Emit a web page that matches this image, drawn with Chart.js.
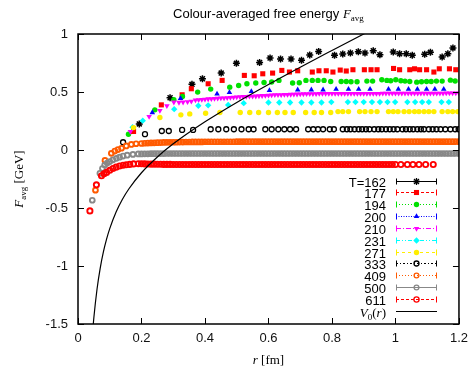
<!DOCTYPE html>
<html>
<head>
<meta charset="utf-8">
<title>Colour-averaged free energy</title>
<script src="https://cdn.jsdelivr.net/npm/chart.js@4.4.1/dist/chart.umd.min.js"></script>
<style>
  html, body { margin: 0; padding: 0; background: #fff; }
  #wrap { width: 475px; height: 367px; }
</style>
</head>
<body>
<div id="wrap"><canvas id="freeEnergyChart" width="475" height="367"></canvas></div>
<script>
// axis ticks
const xTicks = [0, 0.2, 0.4, 0.6, 0.8, 1, 1.2];
const yTicks = [-1.5, -1, -0.5, 0, 0.5, 1];

// T = 162 MeV
const r162 = [0.193, 0.29, 0.359, 0.392, 0.451, 0.499, 0.572, 0.605, 0.638, 0.671, 0.704, 0.730, 0.758,
  0.808, 0.834, 0.858, 0.883, 0.904, 0.93, 0.951, 0.993, 1.013, 1.034, 1.053, 1.092, 1.11, 1.147, 1.165, 1.181];
const v162 = [0.225, 0.45, 0.566, 0.614, 0.663, 0.747, 0.755, 0.793, 0.784, 0.784, 0.773, 0.819, 0.85,
  0.816, 0.827, 0.836, 0.848, 0.836, 0.856, 0.822, 0.845, 0.83, 0.83, 0.816, 0.825, 0.842, 0.802, 0.83, 0.88];

// T = 177
const r177 = [0.175, 0.2625, 0.328, 0.357, 0.41, 0.454, 0.524, 0.555, 0.582, 0.613, 0.642, 0.666, 0.692,
  0.738, 0.759, 0.782, 0.803, 0.826, 0.845, 0.866, 0.902, 0.923, 0.942, 0.994, 1.013, 1.045, 1.06, 1.076,
  1.098, 1.121, 1.138, 1.17, 1.19];
const v177 = [0.16, 0.389, 0.476, 0.528, 0.571, 0.6, 0.643, 0.64, 0.657, 0.663, 0.686, 0.672, 0.683,
  0.672, 0.683, 0.683, 0.672, 0.689, 0.681, 0.692, 0.692, 0.692, 0.692, 0.703, 0.692, 0.692, 0.7, 0.692,
  0.692, 0.672, 0.7, 0.7, 0.692];

// T = 194
const r194 = [0.159, 0.242, 0.302, 0.329, 0.377, 0.418, 0.478, 0.506, 0.532, 0.56, 0.586, 0.61, 0.633,
  0.676, 0.697, 0.718, 0.738, 0.756, 0.775, 0.796, 0.829, 0.845, 0.86, 0.879, 0.91, 0.928, 0.957, 0.973,
  0.985, 1.001, 1.017, 1.03, 1.045, 1.067, 1.082, 1.098, 1.1125, 1.129, 1.147, 1.173, 1.188];
const v194 = [0.136, 0.346, 0.433, 0.461, 0.499, 0.525, 0.542, 0.556, 0.571, 0.577, 0.582, 0.586, 0.6,
  0.577, 0.58, 0.6, 0.6, 0.6, 0.6, 0.591, 0.591, 0.591, 0.588, 0.588, 0.594, 0.594, 0.605, 0.6,
  0.597, 0.605, 0.597, 0.594, 0.591, 0.585, 0.588, 0.591, 0.591, 0.594, 0.594, 0.602, 0.595];

// T = 200
const r200 = [0.234, 0.323, 0.438, 0.477, 0.546, 0.603, 0.692, 0.735, 0.772, 0.813, 0.852, 0.884, 0.92,
  0.978, 1.009, 1.041, 1.069, 1.098, 1.124, 1.152];
const v200 = [0.323, 0.444, 0.484, 0.496, 0.505, 0.513, 0.519, 0.519, 0.519, 0.525, 0.525, 0.525, 0.525,
  0.525, 0.525, 0.525, 0.525, 0.525, 0.525, 0.525];

// fine r grid shared by the dense series
const rGrid = [
  0.20, 0.21, 0.22, 0.23, 0.24, 0.25, 0.26, 0.27, 0.28, 0.29,
  0.30, 0.31, 0.32, 0.33, 0.34, 0.35, 0.36, 0.37, 0.38, 0.39,
  0.40, 0.41, 0.42, 0.43, 0.44, 0.45, 0.46, 0.47, 0.48, 0.49,
  0.50, 0.51, 0.52, 0.53, 0.54, 0.55, 0.56, 0.57, 0.58, 0.59,
  0.60, 0.61, 0.62, 0.63, 0.64, 0.65, 0.66, 0.67, 0.68, 0.69,
  0.70, 0.71, 0.72, 0.73, 0.74, 0.75, 0.76, 0.77, 0.78, 0.79,
  0.80, 0.81, 0.82, 0.83, 0.84, 0.85, 0.86, 0.87, 0.88, 0.89,
  0.90, 0.91, 0.92, 0.93, 0.94, 0.95, 0.96, 0.97, 0.98, 0.99,
  1.00, 1.01, 1.02, 1.03, 1.04, 1.05, 1.06, 1.07, 1.08, 1.09,
  1.10, 1.11, 1.12, 1.13, 1.14, 1.15, 1.16, 1.17, 1.18, 1.19,
  1.20
];

// T = 210 (small r points, then the band from r = 0.38 on)
const r210Start = [0.165, 0.224, 0.258, 0.28, 0.302, 0.318, 0.331, 0.345, 0.357, 0.37];
const v210Start = [0.158, 0.288, 0.34, 0.38, 0.412, 0.41, 0.412, 0.415, 0.42, 0.43];
const v210Band = [
  0.433, 0.435, 0.437, 0.440, 0.442, 0.444, 0.446, 0.447,
  0.448, 0.450, 0.452, 0.454, 0.456, 0.458, 0.460, 0.461, 0.462, 0.463,
  0.464, 0.466, 0.468, 0.470, 0.472, 0.474, 0.475, 0.476, 0.476, 0.477,
  0.478, 0.479, 0.480, 0.481, 0.482, 0.483, 0.484, 0.484, 0.485, 0.485,
  0.486, 0.486, 0.486, 0.486, 0.486, 0.486, 0.486, 0.486, 0.486, 0.486,
  0.487, 0.487, 0.487, 0.487, 0.487, 0.487, 0.487, 0.487, 0.487, 0.487,
  0.488, 0.488, 0.488, 0.488, 0.488, 0.488, 0.488, 0.488, 0.488, 0.488,
  0.489, 0.489, 0.489, 0.489, 0.489, 0.489, 0.489, 0.489, 0.489, 0.489,
  0.490, 0.490, 0.490, 0.490, 0.490
];

// T = 231
const r231 = [0.172, 0.204, 0.303, 0.379, 0.41, 0.473, 0.522, 0.6, 0.634, 0.668, 0.704, 0.735, 0.767,
  0.798, 0.85, 0.874, 0.9, 0.926, 0.951, 0.975, 0.999, 1.0375, 1.062, 1.084, 1.105, 1.145, 1.168];
const v231 = [0.196, 0.253, 0.352, 0.381, 0.385, 0.389, 0.404, 0.41, 0.41, 0.41, 0.41, 0.41, 0.41,
  0.413, 0.413, 0.413, 0.413, 0.413, 0.413, 0.413, 0.413, 0.413, 0.413, 0.413, 0.413, 0.413, 0.413];

// T = 271
const r271 = [0.175, 0.258, 0.324, 0.352, 0.402, 0.447, 0.511, 0.541, 0.569, 0.6, 0.628, 0.652, 0.678,
  0.717, 0.744, 0.767, 0.796, 0.819, 0.834, 0.852, 0.887, 0.904, 0.923, 0.942, 0.978, 0.993, 1.008,
  1.027, 1.043, 1.06, 1.074, 1.09, 1.105, 1.121, 1.147, 1.165, 1.18, 1.196];
const v271 = [0.193, 0.28, 0.303, 0.311, 0.317, 0.323, 0.323, 0.323, 0.323, 0.323, 0.323, 0.323, 0.323,
  0.323, 0.323, 0.323, 0.323, 0.331, 0.331, 0.331, 0.331, 0.331, 0.331, 0.331, 0.331, 0.331, 0.331,
  0.331, 0.331, 0.331, 0.331, 0.331, 0.331, 0.331, 0.331, 0.331, 0.331, 0.331];

// T = 333
const r333 = [0.142, 0.211, 0.264, 0.286, 0.328, 0.3625, 0.418, 0.442, 0.467, 0.491, 0.515, 0.5375, 0.553,
  0.590, 0.610, 0.631, 0.65, 0.668, 0.687, 0.725, 0.741, 0.756, 0.772, 0.793, 0.806, 0.834, 0.847, 0.858,
  0.871, 0.884, 0.895, 0.907, 0.918, 0.933, 0.946, 0.957, 0.970, 0.982, 0.994, 1.006, 1.022, 1.033,
  1.045, 1.056, 1.069, 1.080, 1.090, 1.105, 1.117, 1.129, 1.142, 1.157, 1.173, 1.188, 1.199];
const v333 = [0.067, 0.136, 0.164, 0.164, 0.173, 0.173, 0.179, 0.179, 0.179, 0.179, 0.179, 0.179, 0.179,
  0.179, 0.179, 0.179, 0.179, 0.179, 0.179, 0.179, 0.179, 0.179, 0.179, 0.179, 0.179, 0.179, 0.179, 0.179,
  0.179, 0.179, 0.179, 0.179, 0.179, 0.179, 0.179, 0.179, 0.179, 0.179, 0.179, 0.179, 0.179, 0.179,
  0.179, 0.179, 0.179, 0.179, 0.179, 0.179, 0.179, 0.179, 0.179, 0.179, 0.179, 0.179, 0.179];

// T = 409
const r409Start = [0.055, 0.085, 0.105, 0.116, 0.126, 0.137, 0.152, 0.168, 0.183];
const v409Start = [-0.346, -0.09, -0.029, -0.009, 0.004, 0.015, 0.035, 0.048, 0.054];
const v409Band = [
  0.056, 0.058, 0.060, 0.061, 0.062, 0.063, 0.064, 0.065, 0.066, 0.066,
  0.067, 0.067, 0.068, 0.068, 0.069, 0.069, 0.070, 0.070, 0.070, 0.070,
  0.071, 0.071, 0.071, 0.071, 0.071, 0.071, 0.071, 0.071, 0.071, 0.071,
  0.072, 0.072, 0.072, 0.072, 0.072, 0.072, 0.072, 0.072, 0.072, 0.072,
  0.072, 0.072, 0.072, 0.072, 0.072, 0.072, 0.072, 0.072, 0.072, 0.072,
  0.072, 0.072, 0.072, 0.072, 0.072, 0.072, 0.072, 0.072, 0.072, 0.072,
  0.072, 0.072, 0.072, 0.072, 0.072, 0.072, 0.072, 0.072, 0.072, 0.072,
  0.072, 0.072, 0.072, 0.072, 0.072, 0.072, 0.072, 0.072, 0.072, 0.072,
  0.072, 0.072, 0.072, 0.072, 0.072, 0.072, 0.072, 0.072, 0.072, 0.072,
  0.072, 0.072, 0.072, 0.072, 0.072, 0.072, 0.072, 0.072, 0.072, 0.072,
  0.072
];

// T = 500
const r500Start = [0.045, 0.069, 0.077, 0.084, 0.092, 0.1, 0.11, 0.121, 0.131, 0.142, 0.155, 0.173, 0.19];
const v500Start = [-0.433, -0.201, -0.16, -0.13, -0.113, -0.1, -0.085, -0.072, -0.062, -0.052, -0.045, -0.038, -0.034];
const v500Band = [
  -0.034, -0.033, -0.033, -0.032, -0.032, -0.031, -0.031, -0.031, -0.030, -0.030,
  -0.030, -0.030, -0.030, -0.030, -0.030, -0.030, -0.030, -0.030, -0.030, -0.030,
  -0.030, -0.030, -0.030, -0.030, -0.030, -0.030, -0.030, -0.030, -0.030, -0.030,
  -0.030, -0.030, -0.030, -0.030, -0.030, -0.030, -0.030, -0.030, -0.030, -0.030,
  -0.030, -0.030, -0.030, -0.030, -0.030, -0.030, -0.030, -0.030, -0.030, -0.030,
  -0.030, -0.030, -0.030, -0.030, -0.030, -0.030, -0.030, -0.030, -0.030, -0.030,
  -0.030, -0.030, -0.030, -0.030, -0.030, -0.030, -0.030, -0.030, -0.030, -0.030,
  -0.030, -0.030, -0.030, -0.030, -0.030, -0.030, -0.030, -0.030, -0.030, -0.030,
  -0.030, -0.030, -0.030, -0.030, -0.030, -0.030, -0.030, -0.030, -0.030, -0.030,
  -0.030, -0.030, -0.030, -0.030, -0.030, -0.030, -0.030, -0.030, -0.030, -0.030,
  -0.030
];

// T = 611 (band stops at r = 1.0, then a few single points)
const r611Start = [0.0375, 0.058, 0.074, 0.082, 0.09, 0.1, 0.11, 0.12, 0.131, 0.142, 0.152, 0.163, 0.175, 0.19];
const v611Start = [-0.525, -0.30, -0.222, -0.205, -0.193, -0.175, -0.159, -0.148, -0.138, -0.131, -0.127, -0.124, -0.12, -0.118];
const v611Band = [
  -0.119, -0.120, -0.121, -0.122, -0.122, -0.123, -0.123, -0.124, -0.124, -0.124,
  -0.125, -0.125, -0.125, -0.125, -0.125, -0.125, -0.125, -0.125, -0.125, -0.125,
  -0.125, -0.125, -0.125, -0.125, -0.125, -0.125, -0.125, -0.125, -0.125, -0.125,
  -0.125, -0.125, -0.125, -0.125, -0.125, -0.125, -0.125, -0.125, -0.125, -0.125,
  -0.125, -0.125, -0.125, -0.125, -0.125, -0.125, -0.125, -0.125, -0.125, -0.125,
  -0.125, -0.125, -0.125, -0.125, -0.125, -0.125, -0.125, -0.125, -0.125, -0.125,
  -0.125, -0.125, -0.125, -0.125, -0.125, -0.125, -0.125, -0.125, -0.125, -0.125,
  -0.125, -0.125, -0.125, -0.125, -0.125, -0.125, -0.125, -0.125, -0.125, -0.125,
  -0.125
];
const r611End = [1.017, 1.0375, 1.055, 1.074, 1.095, 1.119];
const v611End = [-0.125, -0.125, -0.125, -0.125, -0.125, -0.125];

// V0(r)
const rV0 = [0.046, 0.05, 0.06, 0.07, 0.08, 0.09, 0.1, 0.12, 0.14, 0.16, 0.2, 0.25, 0.3, 0.4, 0.5, 0.6, 0.7, 0.8, 0.9, 0.92];
const vV0 = [-1.571, -1.444, -1.198, -1.018, -0.879, -0.769, -0.678, -0.535, -0.425, -0.336, -0.196, -0.06,
  0.053, 0.243, 0.41, 0.565, 0.714, 0.858, 1.0, 1.028];

const SANS = "'Liberation Sans', 'DejaVu Sans', sans-serif";
const SERIF = "'Liberation Serif', 'DejaVu Serif', serif";

const series = [
  { label: "T=162", r: r162, v: v162, color: "#000000", style: "star", radius: 3.5, filled: false, bw: 1.5, dash: [] },
  { label: "177", r: r177, v: v177, color: "#ff0000", style: "rect", radius: 3.6, filled: true, bw: 0, dash: [3, 2] },
  { label: "194", r: r194, v: v194, color: "#00e000", style: "circle", radius: 2.7, filled: true, bw: 0, dash: [1, 2] },
  { label: "200", r: r200, v: v200, color: "#0000ff", style: "triangle", radius: 3.2, filled: true, bw: 0, dash: [1, 1.5] },
  { label: "210", r: r210Start.concat(rGrid.slice(18)), v: v210Start.concat(v210Band), color: "#ff00ff", style: "triangle", rotation: 180, radius: 3.2, filled: true, bw: 0, dash: [5, 2, 1, 2] },
  { label: "231", r: r231, v: v231, color: "#00ffff", style: "rectRot", radius: 3.2, filled: true, bw: 0, dash: [4, 2, 1, 2, 1, 2] },
  { label: "271", r: r271, v: v271, color: "#ffee00", style: "circle", radius: 2.7, filled: true, bw: 0, dash: [3, 3] },
  { label: "333", r: r333, v: v333, color: "#000000", style: "circle", radius: 2.5, filled: false, bw: 1.3, dash: [2, 2, 1, 2] },
  { label: "409", r: r409Start.concat(rGrid), v: v409Start.concat(v409Band), color: "#ff5a00", style: "circle", radius: 2.4, filled: false, bw: 1.9, dash: [1, 2] },
  { label: "500", r: r500Start.concat(rGrid), v: v500Start.concat(v500Band), color: "#888888", style: "circle", radius: 2.4, filled: false, bw: 1.9, dash: [] },
  { label: "611", r: r611Start.concat(rGrid.slice(0, 81), r611End), v: v611Start.concat(v611Band, v611End), color: "#ff0000", style: "circle", radius: 2.6, filled: false, bw: 1.9, dash: [3, 2] }
];

const datasets = series.map((s, i) => ({
  label: s.label,
  data: s.r.map((r, k) => ({ x: r, y: s.v[k] })),
  showLine: false,
  pointStyle: s.style,
  pointRotation: s.rotation || 0,
  pointRadius: s.radius,
  pointBorderWidth: s.bw,
  pointBorderColor: s.color,
  pointBackgroundColor: s.filled ? s.color : "rgba(0,0,0,0)",
  borderColor: s.color,
  order: series.length + 1 - i
}));

datasets.push({
  label: "V0(r)",
  data: rV0.map((r, k) => ({ x: r, y: vV0[k] })),
  showLine: true,
  pointRadius: 0,
  borderColor: "#000000",
  borderWidth: 1.2,
  cubicInterpolationMode: "monotone",
  order: 0
});

// draw a row of text pieces (mixed fonts, subscripts)
function drawPieces(ctx, pieces, x, y, align) {
  let w = 0;
  pieces.forEach((p) => { ctx.font = p.font; w += ctx.measureText(p.text).width; });
  let cx = align === "center" ? x - w / 2 : align === "right" ? x - w : x;
  pieces.forEach((p) => {
    ctx.font = p.font;
    ctx.fillText(p.text, cx, y + (p.dy || 0));
    cx += ctx.measureText(p.text).width;
  });
}

const decorations = {
  id: "decorations",
  afterDraw(chart) {
    const { ctx, chartArea: a, scales } = chart;
    const xs = scales.x;
    const ys = scales.y;
    ctx.save();

    // inward ticks, mirrored on all sides
    ctx.strokeStyle = "#000";
    ctx.lineWidth = 1;
    ctx.beginPath();
    xTicks.forEach((t) => {
      const px = Math.round(xs.getPixelForValue(t)) + 0.5;
      ctx.moveTo(px, a.bottom); ctx.lineTo(px, a.bottom - 6);
      ctx.moveTo(px, a.top); ctx.lineTo(px, a.top + 6);
    });
    yTicks.forEach((t) => {
      const py = Math.round(ys.getPixelForValue(t)) + 0.5;
      ctx.moveTo(a.left, py); ctx.lineTo(a.left + 6, py);
      ctx.moveTo(a.right, py); ctx.lineTo(a.right - 6, py);
    });
    ctx.stroke();

    // frame
    ctx.lineWidth = 1.5;
    ctx.strokeRect(a.left, a.top, a.right - a.left, a.bottom - a.top);

    // title and axis titles
    ctx.fillStyle = "#000";
    ctx.textBaseline = "alphabetic";
    const midX = (a.left + a.right) / 2;
    drawPieces(ctx, [
      { text: "Colour-averaged free energy ", font: "13px " + SANS },
      { text: "F", font: "italic 13px " + SERIF },
      { text: "avg", font: "9px " + SERIF, dy: 3 }
    ], midX, 18, "center");

    drawPieces(ctx, [
      { text: "r", font: "italic 13px " + SERIF },
      { text: " [fm]", font: "13px " + SERIF }
    ], midX, 364, "center");

    ctx.save();
    ctx.translate(23, (a.top + a.bottom) / 2);
    ctx.rotate(-Math.PI / 2);
    drawPieces(ctx, [
      { text: "F", font: "italic 13px " + SERIF },
      { text: "avg", font: "9px " + SERIF, dy: 3 },
      { text: " [GeV]", font: "13px " + SERIF }
    ], 0, 0, "center");
    ctx.restore();

    // key, bottom right inside the plot
    const textRight = 386;
    const lineL = 396;
    const lineR = 437;
    const markX = 416.5;
    const rowY0 = 180.5;
    const rowStep = 11.85;
    series.forEach((s, i) => {
      const yy = Math.round(rowY0 + i * rowStep) + 0.5;
      ctx.fillStyle = "#000";
      drawPieces(ctx, [{ text: s.label, font: "13px " + SANS }], textRight, yy + 5, "right");

      ctx.strokeStyle = s.color;
      ctx.lineWidth = 1;
      ctx.setLineDash(s.dash);
      ctx.beginPath();
      ctx.moveTo(lineL, yy); ctx.lineTo(lineR, yy);
      ctx.stroke();
      ctx.setLineDash([]);
      ctx.beginPath();
      ctx.moveTo(lineL + 0.5, yy - 3); ctx.lineTo(lineL + 0.5, yy + 3);
      ctx.moveTo(lineR - 0.5, yy - 3); ctx.lineTo(lineR - 0.5, yy + 3);
      ctx.stroke();

      ctx.fillStyle = s.filled ? s.color : "rgba(0,0,0,0)";
      ctx.strokeStyle = s.color;
      ctx.lineWidth = Math.min(s.bw, 1.3);
      Chart.helpers.drawPoint(ctx, {
        pointStyle: s.style,
        radius: s.radius,
        rotation: s.rotation || 0,
        borderWidth: Math.min(s.bw, 1.3)
      }, markX, yy);
    });

    const vy = Math.round(rowY0 + series.length * rowStep) + 0.5;
    ctx.fillStyle = "#000";
    drawPieces(ctx, [
      { text: "V", font: "italic 13px " + SERIF },
      { text: "0", font: "9px " + SERIF, dy: 3 },
      { text: "(", font: "13px " + SERIF },
      { text: "r", font: "italic 13px " + SERIF },
      { text: ")", font: "13px " + SERIF }
    ], textRight, vy + 5, "right");
    ctx.strokeStyle = "#000";
    ctx.lineWidth = 1.2;
    ctx.beginPath();
    ctx.moveTo(lineL, vy); ctx.lineTo(lineR, vy);
    ctx.stroke();

    ctx.restore();
  }
};

// plain tick text: "1", "0.5", "-1.5"
const tickText = (v) => String(Math.round(v * 10) / 10);

const ctx = document.getElementById("freeEnergyChart").getContext("2d");
new Chart(ctx, {
  type: "scatter",
  data: { datasets: datasets },
  options: {
    responsive: false,
    devicePixelRatio: 1,
    animation: false,
    events: [],
    layout: { padding: { top: 34, right: 13, bottom: 0, left: 0 } },
    plugins: {
      legend: { display: false },
      tooltip: { enabled: false },
      title: { display: false }
    },
    scales: {
      x: {
        type: "linear",
        min: xTicks[0],
        max: xTicks[xTicks.length - 1],
        afterFit: (scale) => { scale.height = 43; },
        afterBuildTicks: (scale) => { scale.ticks = xTicks.map((v) => ({ value: v })); },
        grid: { display: false, drawTicks: false },
        border: { display: false },
        ticks: { color: "#111", padding: 7, font: { family: SANS, size: 13 }, callback: tickText }
      },
      y: {
        type: "linear",
        min: yTicks[0],
        max: yTicks[yTicks.length - 1],
        afterFit: (scale) => { scale.width = 78; },
        afterBuildTicks: (scale) => { scale.ticks = yTicks.map((v) => ({ value: v })); },
        grid: { display: false, drawTicks: false },
        border: { display: false },
        ticks: { color: "#111", padding: 10, font: { family: SANS, size: 13 }, callback: tickText }
      }
    }
  },
  plugins: [decorations]
});
</script>
</body>
</html>
